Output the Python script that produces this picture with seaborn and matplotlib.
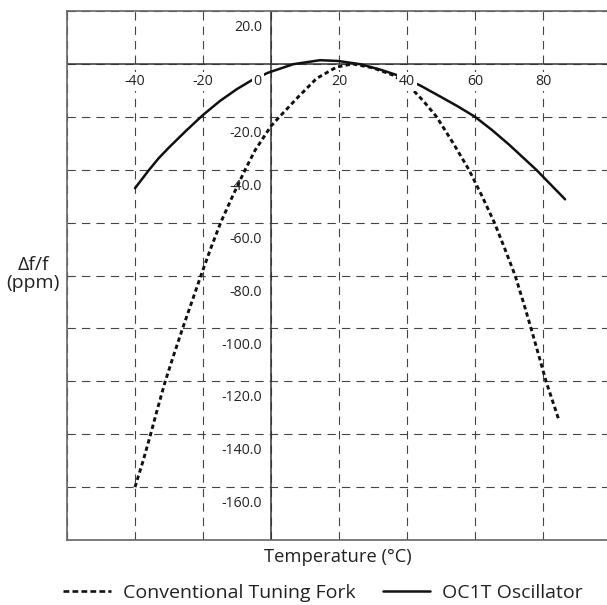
import matplotlib
matplotlib.use('Agg')
import matplotlib.pyplot as plt
from matplotlib.lines import Line2D
import seaborn as sns

# conventional tuning fork (dotted curve)
fork_temp = [-40, -37.6, -35.4, -33.3, -31.1, -28.6, -26, -23.3, -20.6, -17.8, -14.8, -11.3, -7.6, -4.7, 0, 2.5, 8, 13.4, 19.3, 24,
             30, 36, 40.9, 44.8, 48.7, 53.5, 58.2, 62, 65.7, 68.8, 71.8, 74.2, 76.5, 78.7, 80.9, 84.5]
fork_ppm = [-160, -150, -140, -130, -120, -110, -100, -90, -80, -70, -60, -50, -40, -32.7, -23.5, -20, -12.5, -5.5, -1.2, 0,
            -1.5, -4.3, -8.7, -14, -20, -29.8, -40, -49.8, -60, -70, -80, -90, -100, -110, -120, -134]

# OC1T oscillator (solid curve)
osc_temp = [-40, -36, -33, -30, -25, -20, -15, -10, -5.7, -0.8, 6.6, 14.4, 19.8, 26.2, 32, 36.5, 43.8, 50, 55, 60, 65, 70, 78, 86.5]
osc_ppm = [-47, -40.3, -35.6, -31.6, -25.3, -19.3, -14, -9.5, -6.2, -3.3, -0.1, 1.4, 1.1, -0.1, -2.1, -4, -8.1, -12.5, -16.1, -20, -25, -30.5, -40, -51.2]

x_ticks = [-40, -20, 0, 20, 40, 60, 80]
y_ticks = [20, -20, -40, -60, -80, -100, -120, -140, -160]

sns.set_theme(style='white')
plt.rcParams['font.family'] = ['Open Sans', 'DejaVu Sans']

fig = plt.figure(figsize=(6.07, 6.05), dpi=100)
ax = fig.add_axes([67 / 607, 65 / 605, 544 / 607, 529 / 605])

ax.set_xlim(-60, 100)
ax.set_ylim(-180, 20)
ax.set_xticks(range(-60, 101, 20))
ax.set_yticks(range(-180, 21, 20))
ax.tick_params(length=0, labelbottom=False, labelleft=False)
ax.grid(True, color='#444444', lw=0.8, linestyle=(0, (7.5, 5.5)))
ax.set_axisbelow(True)

for s in ['left', 'top', 'bottom']:
    ax.spines[s].set_color('#666666')
    ax.spines[s].set_linewidth(1.2)
ax.spines['right'].set_visible(False)

ax.axhline(0, color='#333333', lw=1.1, zorder=2)
ax.axvline(0, color='#333333', lw=1.1, zorder=2)

sns.lineplot(x=fork_temp, y=fork_ppm, ax=ax, color='#111111', lw=2.1,
             linestyle=(0, (1.5, 1.1)), estimator=None, sort=False, zorder=3)
sns.lineplot(x=osc_temp, y=osc_ppm, ax=ax, color='#111111', lw=1.8,
             estimator=None, sort=False, zorder=3)

# tick labels drawn inside the plot
for t in x_ticks:
    dx = -9.5 if t == 0 else 0
    ax.annotate(str(t), xy=(t, 0), xytext=(dx, -12.5), textcoords='offset points',
                ha='center', va='center', fontsize=10.2, color='#222222', zorder=4,
                bbox=dict(facecolor='white', edgecolor='none', pad=1.5))
for v in y_ticks:
    ax.annotate(f'{v:.1f}', xy=(0, v), xytext=(-6.5, -12), textcoords='offset points',
                ha='right', va='center', fontsize=10.2, color='#222222', zorder=4)

fig.text(33 / 607, 1 - 274 / 605, 'Δf/f\n(ppm)', ha='center', va='center',
         fontsize=14, color='#222222', linespacing=1.0)
fig.text(338 / 607, 1 - 557 / 605, 'Temperature (°C)', ha='center', va='center',
         fontsize=13.2, color='#222222')

handles = [Line2D([], [], color='#111111', lw=1.9, linestyle=(0, (2.2, 1.2))),
           Line2D([], [], color='#111111', lw=1.8)]
fig.legend(handles, ['Conventional Tuning Fork', 'OC1T Oscillator'], ncol=2,
           loc='center', bbox_to_anchor=(323 / 607, 1 - 593 / 605), frameon=False,
           fontsize=14, handlelength=2.45, handletextpad=0.6, columnspacing=1.4,
           borderpad=0, borderaxespad=0, labelcolor='#222222')

fig.savefig('out.png', dpi=100)
